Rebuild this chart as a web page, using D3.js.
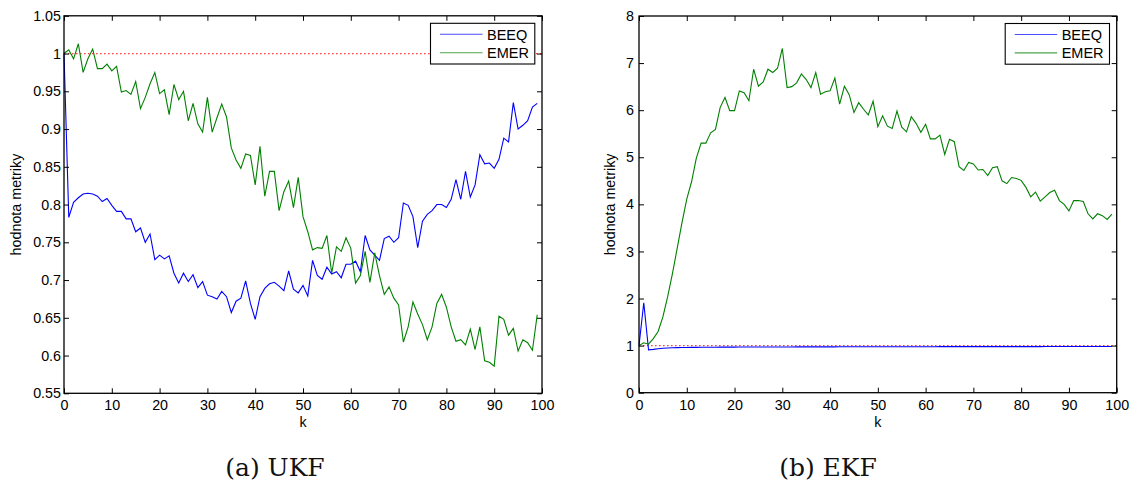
<!DOCTYPE html>
<html>
<head>
<meta charset="utf-8">
<script src="https://cdn.jsdelivr.net/npm/d3@7"></script>
<style>
    body { margin: 0; background: #fff; }
    svg { display: block; }
    .tick text { font-family: "Liberation Sans", Arial, sans-serif; font-size: 14.3px; fill: #000; }
    .tick line { stroke: #000; stroke-width: 1; }
    .lbl { font-family: "Liberation Sans", Arial, sans-serif; font-size: 14.3px; fill: #000; }
    .cap { font-family: "DejaVu Serif", serif; font-size: 25px; fill: #111; }
</style>
</head>
<body>
<div id="fig"></div>
<script>
// time steps k = 0..99
const steps = d3.range(100);

// (a) UKF
const ukfBeeq = [1.0, 0.783, 0.803, 0.809, 0.814, 0.815, 0.814, 0.811, 0.804, 0.808,
    0.799, 0.791, 0.791, 0.781, 0.781, 0.764, 0.769, 0.750, 0.761, 0.727,
    0.733, 0.728, 0.732, 0.709, 0.696, 0.709, 0.698, 0.707, 0.690, 0.698,
    0.680, 0.678, 0.675, 0.685, 0.678, 0.657, 0.672, 0.676, 0.699, 0.669,
    0.648, 0.678, 0.689, 0.695, 0.697, 0.692, 0.686, 0.712, 0.688, 0.683,
    0.693, 0.679, 0.726, 0.706, 0.701, 0.717, 0.708, 0.711, 0.703, 0.721,
    0.721, 0.725, 0.711, 0.759, 0.740, 0.733, 0.726, 0.755, 0.758, 0.750,
    0.756, 0.802, 0.799, 0.784, 0.743, 0.778, 0.787, 0.792, 0.800, 0.800,
    0.796, 0.807, 0.833, 0.807, 0.844, 0.810, 0.826, 0.866, 0.854, 0.855,
    0.848, 0.860, 0.888, 0.883, 0.935, 0.900, 0.905, 0.911, 0.929, 0.934];
const ukfEmer = [1.0, 1.005, 0.993, 1.013, 0.975, 0.993, 1.006, 0.980, 0.980, 0.986,
    0.977, 0.983, 0.949, 0.951, 0.946, 0.963, 0.927, 0.942, 0.960, 0.975,
    0.947, 0.952, 0.919, 0.959, 0.939, 0.950, 0.911, 0.934, 0.907, 0.896,
    0.942, 0.896, 0.915, 0.933, 0.916, 0.875, 0.859, 0.848, 0.867, 0.865,
    0.826, 0.877, 0.811, 0.844, 0.844, 0.792, 0.817, 0.831, 0.796, 0.836,
    0.784, 0.764, 0.740, 0.743, 0.742, 0.759, 0.709, 0.744, 0.738, 0.756,
    0.742, 0.696, 0.706, 0.738, 0.697, 0.736, 0.706, 0.681, 0.691, 0.676,
    0.667, 0.618, 0.638, 0.671, 0.655, 0.641, 0.621, 0.638, 0.669, 0.681,
    0.664, 0.638, 0.619, 0.621, 0.614, 0.635, 0.608, 0.638, 0.593, 0.591,
    0.586, 0.652, 0.648, 0.627, 0.636, 0.606, 0.621, 0.617, 0.607, 0.654];

// (b) EKF
const ekfBeeq = [1.0, 1.91, 0.91, 0.92, 0.935, 0.945, 0.95, 0.955, 0.958, 0.96,
    0.961, 0.962, 0.963, 0.964, 0.965, 0.966, 0.966, 0.967, 0.967, 0.968,
    0.968, 0.969, 0.969, 0.970, 0.970, 0.970, 0.971, 0.971, 0.971, 0.972,
    0.972, 0.972, 0.972, 0.973, 0.973, 0.973, 0.973, 0.974, 0.974, 0.974,
    0.974, 0.974, 0.975, 0.975, 0.975, 0.975, 0.975, 0.975, 0.976, 0.976,
    0.976, 0.976, 0.976, 0.976, 0.976, 0.977, 0.977, 0.977, 0.977, 0.977,
    0.977, 0.977, 0.977, 0.978, 0.978, 0.978, 0.978, 0.978, 0.978, 0.978,
    0.978, 0.978, 0.978, 0.979, 0.979, 0.979, 0.979, 0.979, 0.979, 0.979,
    0.979, 0.979, 0.979, 0.979, 0.979, 0.980, 0.980, 0.980, 0.980, 0.980,
    0.980, 0.980, 0.980, 0.980, 0.980, 0.980, 0.980, 0.980, 0.980, 0.980];
const ekfEmer = [1.0, 1.06, 1.03, 1.15, 1.30, 1.61, 2.04, 2.53, 3.07, 3.61,
    4.11, 4.48, 4.98, 5.30, 5.30, 5.52, 5.59, 6.06, 6.27, 5.99,
    5.99, 6.41, 6.37, 6.20, 6.87, 6.51, 6.60, 6.87, 6.80, 6.89,
    7.31, 6.48, 6.50, 6.58, 6.77, 6.65, 6.48, 6.80, 6.34, 6.39,
    6.41, 6.68, 6.13, 6.51, 6.33, 5.95, 6.16, 6.02, 5.90, 6.19,
    5.65, 5.88, 5.66, 5.61, 5.98, 5.64, 5.54, 5.86, 5.72, 5.53,
    5.70, 5.39, 5.39, 5.47, 5.06, 5.38, 5.33, 4.80, 4.72, 4.89,
    4.86, 4.73, 4.74, 4.61, 4.78, 4.80, 4.50, 4.44, 4.57, 4.55,
    4.51, 4.36, 4.16, 4.26, 4.07, 4.16, 4.25, 4.30, 4.08, 4.00,
    3.86, 4.08, 4.08, 4.06, 3.80, 3.69, 3.80, 3.76, 3.68, 3.79];

// reference level
const refLevel = 1;

// tick labels
const xTicks = [0, 10, 20, 30, 40, 50, 60, 70, 80, 90, 100];
const ukfYTicks = [0.55, 0.6, 0.65, 0.7, 0.75, 0.8, 0.85, 0.9, 0.95, 1, 1.05];
const ukfYTickLabels = ["0.55", "0.6", "0.65", "0.7", "0.75", "0.8", "0.85", "0.9", "0.95", "1", "1.05"];
const ekfYTicks = [0, 1, 2, 3, 4, 5, 6, 7, 8];
const ekfYTickLabels = ["0", "1", "2", "3", "4", "5", "6", "7", "8"];

const seriesNames = ["BEEQ", "EMER"];
const seriesColors = ["#0000ff", "#008000"];

const W = 1137, H = 483;

const svg = d3.select("#fig")
    .append("svg")
    .attr("width", W)
    .attr("height", H);

svg.append("rect").attr("width", W).attr("height", H).attr("fill", "#fff");

function panel(p) {
    const x = d3.scaleLinear().domain([0, 100]).range([p.left, p.right]);
    const y = d3.scaleLinear().domain(p.yDomain).range([p.bottom, p.top]);
    const g = svg.append("g");

    // reference dotted line
    g.append("line")
        .attr("x1", x(0)).attr("x2", x(100))
        .attr("y1", y(refLevel)).attr("y2", y(refLevel))
        .attr("stroke", "#ff4040")
        .attr("stroke-width", 1.2)
        .attr("stroke-dasharray", "1.6,2.4");

    // data lines
    const line = d3.line()
        .x((d, i) => x(steps[i]))
        .y(d => y(d));
    p.series.forEach((s, i) => {
        g.append("path")
            .datum(s)
            .attr("fill", "none")
            .attr("stroke", seriesColors[i])
            .attr("stroke-width", 1.1)
            .attr("d", line);
    });

    // axes (ticks inside, MATLAB style)
    const fmt = v => p.yLabels[p.yTicks.indexOf(v)];
    const axB = g.append("g").attr("transform", `translate(0,${p.bottom})`)
        .call(d3.axisBottom(x).tickValues(xTicks).tickSize(-5).tickSizeOuter(0).tickPadding(7));
    const axT = g.append("g").attr("transform", `translate(0,${p.top})`)
        .call(d3.axisTop(x).tickValues(xTicks).tickSize(-5).tickSizeOuter(0).tickFormat(""));
    const axL = g.append("g").attr("transform", `translate(${p.left},0)`)
        .call(d3.axisLeft(y).tickValues(p.yTicks).tickSize(-5).tickSizeOuter(0).tickPadding(p.yPad).tickFormat(fmt));
    const axR = g.append("g").attr("transform", `translate(${p.right},0)`)
        .call(d3.axisRight(y).tickValues(p.yTicks).tickSize(-5).tickSizeOuter(0).tickFormat(""));
    [axB, axT, axL, axR].forEach(a => a.select(".domain").remove());
    [axB, axT, axL, axR].forEach(a => a.attr("font-family", null).attr("font-size", null));

    // box
    g.append("rect")
        .attr("x", p.left).attr("y", p.top)
        .attr("width", p.right - p.left).attr("height", p.bottom - p.top)
        .attr("fill", "none").attr("stroke", "#000").attr("stroke-width", 1.3);

    // axis labels
    g.append("text").attr("class", "lbl")
        .attr("x", (p.left + p.right) / 2).attr("y", 427)
        .attr("text-anchor", "middle").text("k");
    g.append("text").attr("class", "lbl")
        .attr("transform", `translate(${p.yLabelX},${(p.top + p.bottom) / 2}) rotate(-90)`)
        .attr("text-anchor", "middle").text("hodnota metriky");

    // legend
    const lx = p.right - 111.5, ly = p.top + 7.5;
    const leg = g.append("g").attr("transform", `translate(${lx},${ly})`);
    leg.append("rect")
        .attr("width", 104.3).attr("height", 40.7)
        .attr("fill", "#fff").attr("stroke", "#000").attr("stroke-width", 1.1);
    seriesNames.forEach((n, i) => {
        const yy = 11 + i * 18.4;
        leg.append("line")
            .attr("x1", 9.5).attr("x2", 52)
            .attr("y1", yy).attr("y2", yy)
            .attr("stroke", seriesColors[i]).attr("stroke-width", 1.1)
            .attr("stroke-opacity", 0.7);
        leg.append("text").attr("class", "lbl")
            .attr("x", 56.5).attr("y", yy + 5.5)
            .style("font-size", "14.5px")
            .text(n);
    });

    // caption
    g.append("text").attr("class", "cap")
        .attr("x", p.capX).attr("y", 476)
        .attr("text-anchor", "middle").text(p.caption);
}

panel({
    left: 64, right: 542, top: 15.8, bottom: 393.3,
    yDomain: [0.55, 1.05], yTicks: ukfYTicks, yLabels: ukfYTickLabels, yPad: 3,
    series: [ukfBeeq, ukfEmer], yLabelX: 21, caption: "(a) UKF", capX: 275
});

panel({
    left: 639, right: 1116.7, top: 16, bottom: 392.7,
    yDomain: [0, 8], yTicks: ekfYTicks, yLabels: ekfYTickLabels, yPad: 5,
    series: [ekfBeeq, ekfEmer], yLabelX: 614.5, caption: "(b) EKF", capX: 828
});
</script>
</body>
</html>
